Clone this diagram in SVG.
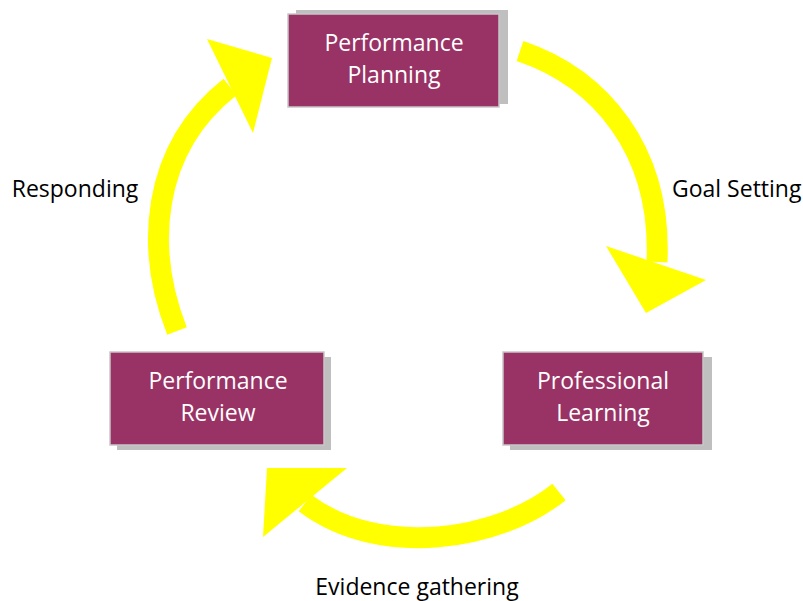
<svg xmlns="http://www.w3.org/2000/svg" width="803" height="601" viewBox="0 0 803 601">
  <defs>
    <style>
      .shadow { fill: #bfbfbf; }
      .box { fill: #993366; stroke: #c8c8c8; stroke-width: 1.5; }
      .boxtext { fill: #ffffff; font-family: "Open Sans", "Liberation Sans", sans-serif; font-size: 23px; text-anchor: middle; }
      .label { fill: #000000; font-family: "Open Sans", "Liberation Sans", sans-serif; font-size: 23px; }
      .shaft { fill: none; stroke: #ffff00; stroke-width: 21; }
      .head { fill: #ffff00; }
    </style>
  </defs>

  <rect width="803" height="601" fill="#ffffff"/>

  <!-- cycle arrows -->
  <g id="connectors">
    <!-- Performance Planning to Professional Learning -->
    <path class="shaft" d="M520,51 C600,78 662,150 657,262"/>
    <polygon class="head" points="606,246 706,280 646,313"/>
    <!-- Professional Learning to Performance Review -->
    <path class="shaft" d="M559,492 C500,540 380,560 305,503"/>
    <polygon class="head" points="347,468 263,537 267,468"/>
    <!-- Performance Review to Performance Planning -->
    <path class="shaft" d="M177,331 C145,250 150,150 230,87"/>
    <polygon class="head" points="207,39 272,58 253,133"/>
  </g>

  <g id="performance-planning">
    <rect class="shadow" x="296" y="10" width="212" height="94"/>
    <rect class="box" x="288" y="14" width="211" height="93"/>
    <text class="boxtext" x="394" y="51">Performance</text>
    <text class="boxtext" x="394" y="83">Planning</text>
  </g>

  <g id="professional-learning">
    <rect class="shadow" x="510" y="357" width="202" height="93"/>
    <rect class="box" x="503" y="352" width="200" height="93"/>
    <text class="boxtext" x="603" y="389">Professional</text>
    <text class="boxtext" x="603" y="421">Learning</text>
  </g>

  <g id="performance-review">
    <rect class="shadow" x="117" y="357" width="214" height="93"/>
    <rect class="box" x="110" y="352" width="214" height="93"/>
    <text class="boxtext" x="218" y="389">Performance</text>
    <text class="boxtext" x="218" y="421">Review</text>
  </g>

  <g id="labels">
    <text class="label" x="672" y="197">Goal Setting</text>
    <text class="label" x="75" y="197" text-anchor="middle">Responding</text>
    <text class="label" x="417" y="595" text-anchor="middle">Evidence gathering</text>
  </g>
</svg>
